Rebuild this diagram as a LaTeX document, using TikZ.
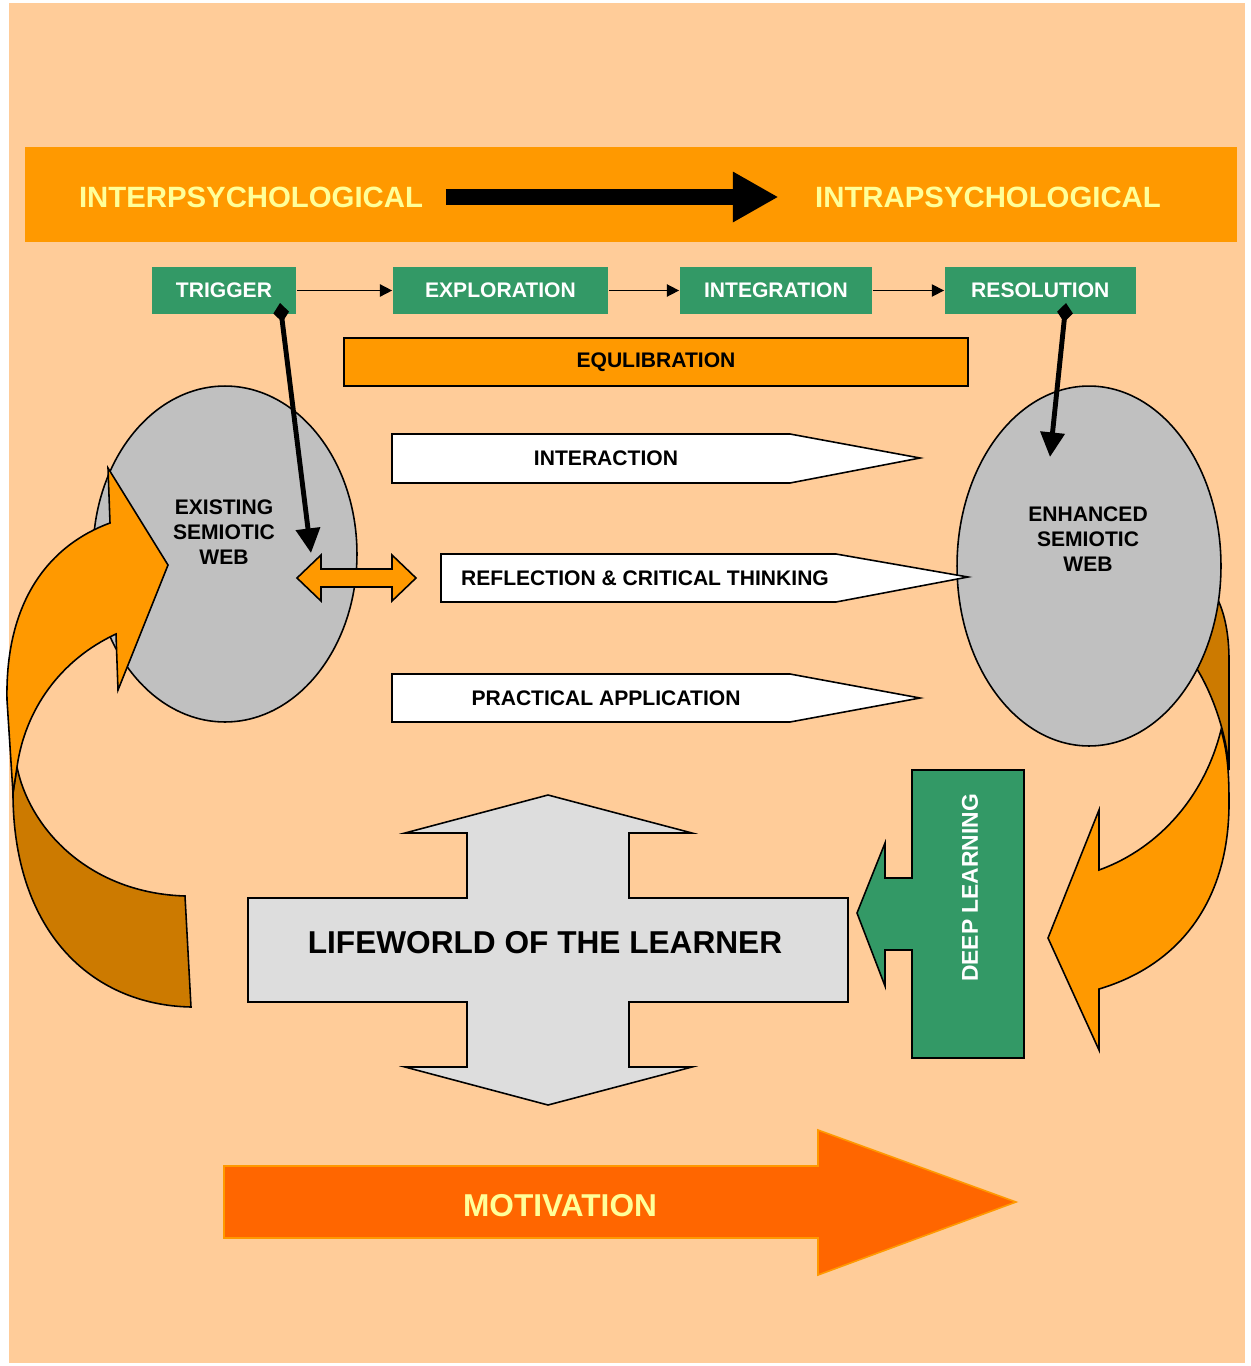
\documentclass[tikz,border=0pt]{standalone}
\usepackage{fontspec}
\setmainfont{Liberation Sans}
\usetikzlibrary{arrows.meta,positioning,shapes.geometric}
\definecolor{peach}{HTML}{FFCC99}
\definecolor{amber}{HTML}{FF9900}
\definecolor{rust}{HTML}{CC7A00}
\definecolor{leaf}{HTML}{339966}
\definecolor{pale}{HTML}{FFFF99}
\definecolor{flame}{HTML}{FF6600}
\definecolor{mist}{HTML}{DDDDDD}
\definecolor{stone}{HTML}{C0C0C0}

\begin{document}
\begin{tikzpicture}[x=0.02cm,y=-0.02cm,on grid,line width=0.9pt,
   phase/.style={fill=leaf,text=white,minimum width=#1,minimum height=0.94cm,inner sep=0pt,
      font=\fontsize{12}{14}\selectfont\bfseries},
   web/.style={ellipse,draw,fill=stone,inner sep=0pt},
   lbl/.style={inner sep=0pt,align=center,font=\fontsize{12}{14.2}\selectfont\bfseries},
   big/.style={inner sep=0pt,font=\fontsize{16.7}{20}\selectfont\bfseries}]
   % page
   \useasboundingbox (0,0) rectangle (1251,1366);
   \fill[white] (0,0) rectangle (1251,1366);
   \fill[peach] (9,3) rectangle (1245,1363);
   % header
   \fill[amber] (25,147) rectangle (1237,242);
   \node[big,text=pale] (inter) at (251,197) {INTERPSYCHOLOGICAL};
   \node[big,text=pale] (intra) at (988,197) {INTRAPSYCHOLOGICAL};
   \draw[line width=9pt,-{Triangle[length=26pt,width=27pt]},shorten <=0.44cm,shorten >=0.72cm]
      (inter) -- (intra);
   % phases
   \node[phase=2.88cm] (trig) at (224,290.5) {TRIGGER};
   \node[phase=4.3cm] (expl) [right=5.53cm of trig] {EXPLORATION};
   \node[phase=3.84cm] (integ) [right=5.51cm of expl] {INTEGRATION};
   \node[phase=3.82cm] (resol) [right=5.29cm of integ] {RESOLUTION};
   \path[-{Triangle[length=7pt,width=7pt]}]
   (trig) edge (expl)
   (expl) edge (integ)
   (integ) edge (resol);
   \node[lbl,draw,fill=amber,minimum width=12.48cm,minimum height=0.96cm] (equil) at (656,362) {EQULIBRATION};
   % semiotic webs
   \draw[fill=rust] (1190,640) -- (1218,600) .. controls (1225,615) and (1229,635) .. (1229,660)
      -- (1229,770) .. controls (1227,735) and (1213,695) .. (1197,669) -- cycle;
   \node[web,minimum width=5.28cm,minimum height=6.72cm] (exist) at (225,554) {};
   \node[web,minimum width=5.28cm,minimum height=7.2cm] (enh) at (1089,566) {};
   \node[lbl] (exist-txt) at (224,532) {EXISTING\\SEMIOTIC\\WEB};
   \node[lbl] (enh-txt) at (1088,539) {ENHANCED\\SEMIOTIC\\WEB};
   % processes
   \draw[fill=white] (392,434) -- (790,434) -- (920,458) -- (790,483) -- (392,483) -- cycle;
   \draw[fill=white] (441,554) -- (836,554) -- (968,577) -- (836,602) -- (441,602) -- cycle;
   \draw[fill=white] (392,674) -- (790,674) -- (920,698) -- (790,722) -- (392,722) -- cycle;
   \node[lbl] (interaction) at (606,458) {INTERACTION};
   \node[lbl] (reflection) at (645,578) {REFLECTION \& CRITICAL THINKING};
   \node[lbl] (practical) at (606,698) {PRACTICAL APPLICATION};
   \draw[fill=amber] (297,578) -- (321,555) -- (321,569) -- (392,569) -- (392,555) -- (416,578)
      -- (392,601) -- (392,587) -- (321,587) -- (321,601) -- cycle;
   % links from the phases
   \coordinate (trig-pin) at (280,303);
   \coordinate (exist-in) at (311,553);
   \coordinate (resol-pin) at (1066,303);
   \coordinate (enh-in) at (1050,457);
   \path[line width=2.8pt,{Diamond[length=11pt,width=9pt]}-{Triangle[length=14pt,width=13.5pt]}]
   (trig-pin) edge (exist-in)
   (resol-pin) edge (enh-in);
   % curved arrows
   \draw[fill=rust] (17,767) .. controls (30,830) and (90,893) .. (185,896) -- (191,1007)
      .. controls (90,1005) and (13,930) .. (13,793) -- cycle;
   \draw[fill=amber] (13,793) -- (7,700) .. controls (5,600) and (50,545) .. (110,523) -- (108,468)
      -- (168,565) -- (118,690) -- (116,634) .. controls (60,660) and (25,710) .. (17,767) -- cycle;
   \draw[fill=amber] (1221,730) .. controls (1227,750) and (1229,770) .. (1229,800)
      .. controls (1230,900) and (1180,965) .. (1099,989) -- (1099,1050) -- (1048,938) -- (1099,810)
      -- (1099,870) .. controls (1160,848) and (1205,795) .. (1221,730) -- cycle;
   % lifeworld
   \draw[fill=mist] (248,898) -- (467,898) -- (467,833) -- (405,833) -- (548,795) -- (692,833)
      -- (629,833) -- (629,898) -- (848,898) -- (848,1002) -- (629,1002) -- (629,1067) -- (692,1067)
      -- (548,1105) -- (405,1067) -- (467,1067) -- (467,1002) -- (248,1002) -- cycle;
   \node[inner sep=0pt,font=\fontsize{18}{20}\selectfont\bfseries] (life) at (545,943) {LIFEWORLD OF THE LEARNER};
   % deep learning
   \draw[fill=leaf] (912,770) -- (1024,770) -- (1024,1058) -- (912,1058) -- (912,950) -- (885,950)
      -- (885,986) -- (857,913) -- (885,843) -- (885,878) -- (912,878) -- cycle;
   \node[inner sep=0pt,text=white,rotate=90,font=\fontsize{13}{15}\selectfont\bfseries] (deep) at (970,888) {DEEP LEARNING};
   % motivation
   \draw[fill=flame,draw=amber] (224,1166) -- (818,1166) -- (818,1130) -- (1016,1202) -- (818,1275)
      -- (818,1238) -- (224,1238) -- cycle;
   \node[inner sep=0pt,text=pale,font=\fontsize{18}{20}\selectfont\bfseries] (motiv) at (560,1206) {MOTIVATION};
\end{tikzpicture}
\end{document}
